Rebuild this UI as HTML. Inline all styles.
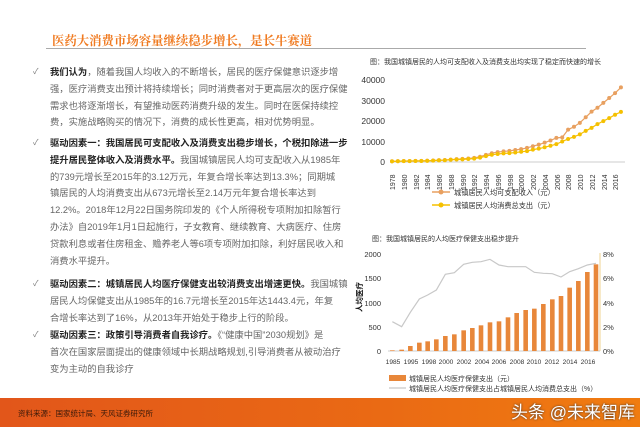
<!DOCTYPE html>
<html><head><meta charset="utf-8">
<style>
html,body{margin:0;padding:0;background:#fff;}
body{width:640px;height:427px;position:relative;overflow:hidden;font-family:"Liberation Sans","Noto Sans CJK SC",sans-serif;}
.title{position:absolute;left:52px;top:31px;font-size:12.4px;font-weight:bold;color:#f07a20;font-family:"Noto Serif CJK SC","Noto Sans CJK SC",serif;letter-spacing:0px;white-space:nowrap;}
.rule{position:absolute;left:46px;top:48px;width:540px;height:1px;background:#aaa;}
.txt{position:absolute;left:50px;font-size:9.3px;line-height:16.8px;color:#666;white-space:nowrap;}
.txt b{color:#222;}
.ck{position:absolute;left:33px;font-size:8px;color:#777;}
.foot{position:absolute;left:0;top:398px;width:640px;height:29px;background:linear-gradient(90deg,#e2561a,#ea6a14 60%,#f07c10);}
.foot span{position:absolute;left:18px;top:10px;font-size:7.5px;color:#3a1a0a;}
.wm{position:absolute;left:511px;top:398px;font-size:17px;color:#fff;text-shadow:0 0 2px #333;white-space:nowrap;}
</style></head><body>
<div class="title">医药大消费市场容量继续稳步增长，是长牛赛道</div>
<div class="rule"></div>

<div class="ck" style="top:66px">✓</div>
<div class="txt" style="top:64px"><b>我们认为</b>，随着我国人均收入的不断增长，居民的医疗保健意识逐步增<br>强，医疗消费支出预计将持续增长；同时消费者对于更高层次的医疗保健<br>需求也将逐渐增长，有望推动医药消费升级的发生。同时在医保持续控<br>费，实施战略购买的情况下，消费的成长性更高，相对优势明显。</div>

<div class="ck" style="top:137px">✓</div>
<div class="txt" style="top:135px"><b>驱动因素一：我国居民可支配收入及消费支出稳步增长，个税扣除进一步<br>提升居民整体收入及消费水平。</b>我国城镇居民人均可支配收入从1985年<br>的739元增长至2015年的3.12万元，年复合增长率达到13.3%；同期城<br>镇居民的人均消费支出从673元增长至2.14万元年复合增长率达到<br>12.2%。2018年12月22日国务院印发的《个人所得税专项附加扣除暂行<br>办法》自2019年1月1日起施行，子女教育、继续教育、大病医疗、住房<br>贷款利息或者住房租金、赡养老人等6项专项附加扣除，利好居民收入和<br>消费水平提升。</div>

<div class="ck" style="top:278px">✓</div>
<div class="txt" style="top:276px"><b>驱动因素二：城镇居民人均医疗保健支出较消费支出增速更快。</b>我国城镇<br>居民人均保健支出从1985年的16.7元增长至2015年达1443.4元，年复<br>合增长率达到了16%，从2013年开始处于稳步上行的阶段。</div>

<div class="ck" style="top:329px">✓</div>
<div class="txt" style="top:327px"><b>驱动因素三：政策引导消费者自我诊疗。</b>《“健康中国”2030规划》是<br>首次在国家层面提出的健康领域中长期战略规划,引导消费者从被动治疗<br>变为主动的自我诊疗</div>

<svg style="position:absolute;left:0;top:0" width="640" height="427" font-family="Liberation Sans,Noto Sans CJK SC,sans-serif">
<text x="370" y="64" font-size="7" fill="#333">图：我国城镇居民的人均可支配收入及消费支出均实现了稳定而快速的增长</text>
<g font-size="8.5" fill="#333" text-anchor="end">
<text x="385" y="83">40000</text><text x="385" y="104">30000</text><text x="385" y="124">20000</text><text x="385" y="145">10000</text><text x="385" y="165">0</text>
</g>
<line x1="390" y1="162" x2="625" y2="162" stroke="#bbb" stroke-width="0.7"/>
<g id="c1"></g>
<g font-size="7" fill="#333">
<text transform="translate(395,190) rotate(-90)">1978</text>
<text transform="translate(407,190) rotate(-90)">1980</text>
<text transform="translate(419,190) rotate(-90)">1982</text>
<text transform="translate(430,190) rotate(-90)">1984</text>
<text transform="translate(442,190) rotate(-90)">1986</text>
<text transform="translate(454,190) rotate(-90)">1988</text>
<text transform="translate(466,190) rotate(-90)">1990</text>
<text transform="translate(477,190) rotate(-90)">1992</text>
<text transform="translate(489,190) rotate(-90)">1994</text>
<text transform="translate(501,190) rotate(-90)">1996</text>
<text transform="translate(513,190) rotate(-90)">1998</text>
<text transform="translate(524,190) rotate(-90)">2000</text>
<text transform="translate(536,190) rotate(-90)">2002</text>
<text transform="translate(548,190) rotate(-90)">2004</text>
<text transform="translate(560,190) rotate(-90)">2006</text>
<text transform="translate(571,190) rotate(-90)">2008</text>
<text transform="translate(583,190) rotate(-90)">2010</text>
<text transform="translate(595,190) rotate(-90)">2012</text>
<text transform="translate(607,190) rotate(-90)">2014</text>
<text transform="translate(618,190) rotate(-90)">2016</text>
</g>
<line x1="432" y1="192" x2="450" y2="192" stroke="#e8a060" stroke-width="1.5"/><circle cx="441" cy="192" r="2.5" fill="#e8a060"/>
<text x="454" y="195" font-size="7.2" fill="#333">城镇居民人均可支配收入（元）</text>
<line x1="432" y1="205" x2="450" y2="205" stroke="#f5c000" stroke-width="1.5"/><circle cx="441" cy="205" r="2.5" fill="#f5c000"/>
<text x="454" y="208" font-size="7.2" fill="#333">城镇居民人均消费总支出（元）</text>

<text x="372" y="241" font-size="7" fill="#333">图：我国城镇居民的人均医疗保健支出稳步提升</text>
<g font-size="7.5" fill="#333" text-anchor="end">
<text x="381" y="257">2000</text><text x="381" y="281">1500</text><text x="381" y="306">1000</text><text x="381" y="330">500</text><text x="381" y="354">0</text>
</g>
<g font-size="7.5" fill="#333">
<text x="603" y="257">8%</text><text x="603" y="281">6%</text><text x="603" y="306">4%</text><text x="603" y="330">2%</text><text x="603" y="354">0%</text>
</g>
<line x1="600" y1="253" x2="600" y2="351" stroke="#e8c060" stroke-width="0.7"/>
<line x1="388" y1="351" x2="600" y2="351" stroke="#bbb" stroke-width="0.7"/>
<text transform="translate(362,312) rotate(-90)" font-size="7.5" font-weight="bold" fill="#111">人均医疗</text>
<g id="c2"></g>
<g font-size="6.6" fill="#333" text-anchor="middle">
<text x="393" y="364">1985</text><text x="411" y="364">1995</text><text x="429" y="364">1998</text><text x="446" y="364">2000</text><text x="464" y="364">2002</text><text x="482" y="364">2004</text><text x="499" y="364">2006</text><text x="517" y="364">2008</text><text x="534" y="364">2010</text><text x="552" y="364">2012</text><text x="570" y="364">2014</text><text x="588" y="364">2016</text>
</g>
<rect x="389" y="375" width="17" height="6" fill="#e8873a"/>
<text x="409" y="381" font-size="7" fill="#333">城镇居民人均医疗保健支出（元）</text>
<line x1="389" y1="388" x2="406" y2="388" stroke="#bbb" stroke-width="1"/>
<text x="409" y="391" font-size="7" fill="#333">城镇居民人均医疗保健支出占城镇居民人均消费总支出（%）</text>
</svg>

<div class="foot"><span>资料来源：国家统计局、天风证券研究所</span></div>
<div class="wm">头条 @未来智库</div>

<script>
var inc=[343,405,478,500,535,565,652,739,900,1002,1180,1374,1510,1700,2027,2577,3496,4283,4839,5160,5425,5854,6280,6860,7703,8472,9422,10493,11759,12000,15781,17175,19109,21810,24565,26467,28844,31195,33616,36396];
var con=[311,361,412,457,471,505,559,673,799,884,1104,1211,1279,1454,1672,2111,2851,3538,3919,4186,4332,4616,4998,5309,6030,6511,7182,7943,8697,9997,11243,12265,13471,15161,16674,18488,19968,21392,23079,24445];
var ns="http://www.w3.org/2000/svg";
function el(t,a,p){var e=document.createElementNS(ns,t);for(var k in a)e.setAttribute(k,a[k]);p.appendChild(e);return e;}
var g1=document.getElementById("c1");
function ser(d,c){var pts=d.map(function(v,i){return [392+i*5.87,162-v*82/40000];});
el("polyline",{points:pts.map(function(p){return p.join(",")}).join(" "),fill:"none",stroke:c,"stroke-width":1.2},g1);
pts.forEach(function(p){el("circle",{cx:p[0],cy:p[1],r:2,fill:c},g1);});}
ser(inc,"#e8a060");ser(con,"#f5c000");
var g2=document.getElementById("c2");
var bx=[112,140,166,193,218,244,271,298,326,352,378,405,432,459,485,512,538,565,592,618,644,670,697,723];
var bt=[376,374,363,353,349,343,333,328,316,309,301,292,289,277,264,255,251,237,223,213,188,168,141,118];
var ly=[290,305,262,222,210,195,148,143,118,112,110,103,120,125,125,125,142,145,146,156,140,131,120,115];
bx.forEach(function(x,i){var X=355+x/3,T=225+bt[i]/3;el("rect",{x:X-2.3,y:T,width:4.6,height:351-T,fill:"#e8873a"},g2);});
el("polyline",{points:bx.map(function(x,i){return (355+x/3)+","+(225+ly[i]/3);}).join(" "),fill:"none",stroke:"#c8c8c8","stroke-width":1.2},g2);
</script>
</body></html>
